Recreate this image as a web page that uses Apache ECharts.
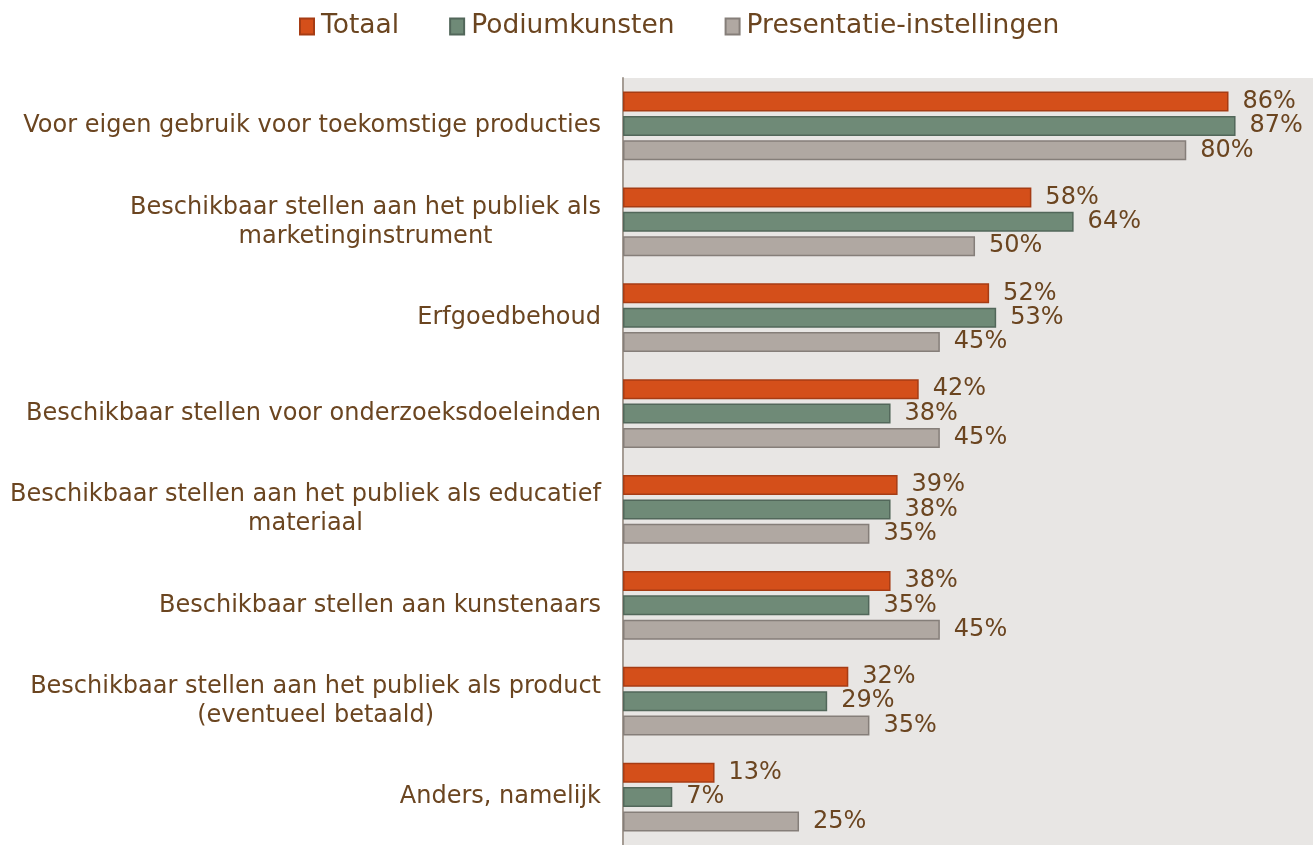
<!DOCTYPE html>
<html>
<head>
<meta charset="utf-8">
<script src="https://cdn.jsdelivr.net/npm/echarts@6/dist/echarts.min.js"></script>
<style>
  html, body { margin: 0; padding: 0; background: #fff; }
  #chart { width: 1313px; height: 845px; }
</style>
</head>
<body>
<div id="chart"></div>
<script>
// data
var categories = [
    'Voor eigen gebruik voor toekomstige producties',
    'Beschikbaar stellen aan het publiek als\nmarketinginstrument',
    'Erfgoedbehoud',
    'Beschikbaar stellen voor onderzoeksdoeleinden',
    'Beschikbaar stellen aan het publiek als educatief\nmateriaal',
    'Beschikbaar stellen aan kunstenaars',
    'Beschikbaar stellen aan het publiek als product\n(eventueel betaald)',
    'Anders, namelijk'
];
var totaal = [86, 58, 52, 42, 39, 38, 32, 13];
var podiumkunsten = [87, 64, 53, 38, 38, 35, 29, 7];
var presentatie = [80, 50, 45, 45, 35, 45, 35, 25];

var textColor = '#6b4520';
var font = 'DejaVu Sans';

var chart = echarts.init(document.getElementById('chart'));

function barSeries(name, data, fill, border) {
    return {
        name: name,
        type: 'bar',
        data: data,
        barWidth: 20,
        barGap: '22%',
        itemStyle: { color: fill, borderColor: border, borderWidth: 1.5 },
        label: {
            show: true,
            position: 'right',
            distance: 14,
            formatter: '{c}%',
            color: textColor,
            fontFamily: font,
            fontSize: 24
        }
    };
}

var option = {
    animation: false,
    textStyle: { fontFamily: font },
    legend: {
        top: 8,
        left: 294,
        icon: 'rect',
        itemWidth: 14,
        itemHeight: 16,
        itemGap: 50,
        textStyle: { color: textColor, fontFamily: font, fontSize: 26.5, padding: [0, 0, 0, 2] },
        data: ['Totaal', 'Podiumkunsten', 'Presentatie-instellingen']
    },
    grid: {
        left: 623,
        right: 0,
        top: 78,
        bottom: 0,
        show: true,
        backgroundColor: '#e8e6e4',
        borderWidth: 0
    },
    xAxis: {
        type: 'value',
        min: 0,
        max: 98,
        show: false,
        splitLine: { show: false }
    },
    yAxis: {
        type: 'category',
        inverse: true,
        data: categories,
        axisLine: { show: true, lineStyle: { color: '#a59c94', width: 2 } },
        axisTick: { show: false },
        axisLabel: {
            margin: 22,
            color: textColor,
            fontFamily: font,
            fontSize: 24,
            lineHeight: 29,
            formatter: function (value) {
                return value.split('\n').map(function (l) { return '{c|' + l + '}'; }).join('\n');
            },
            rich: {
                c: { align: 'center', color: textColor, fontFamily: font, fontSize: 24, lineHeight: 29 }
            }
        }
    },
    series: [
        barSeries('Totaal', totaal, '#d44f1a', '#a63c14'),
        barSeries('Podiumkunsten', podiumkunsten, '#6f8a77', '#52675a'),
        barSeries('Presentatie-instellingen', presentatie, '#b0a8a2', '#857e79')
    ]
};

chart.setOption(option);
</script>
</body>
</html>
